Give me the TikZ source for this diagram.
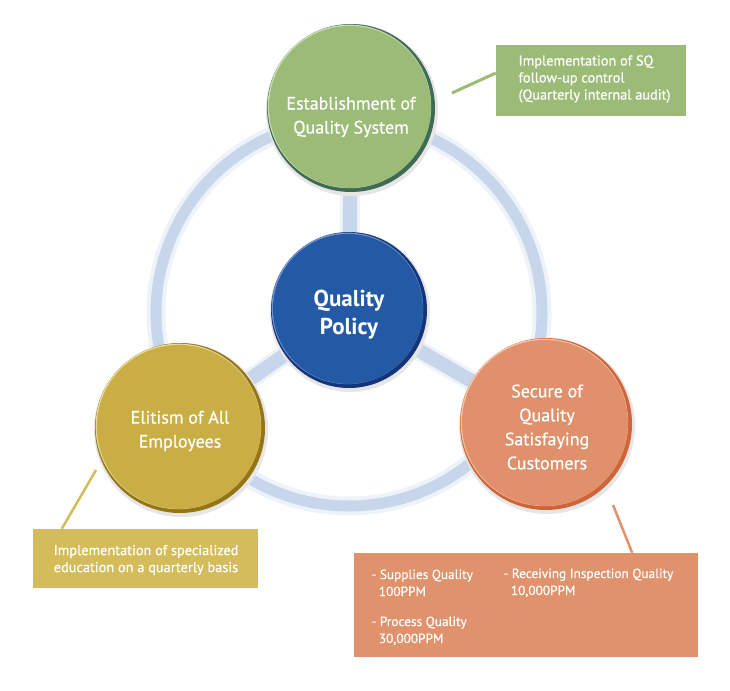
\documentclass[tikz,border=0pt]{standalone}
\usepackage{fontspec}
\setmainfont{PT Sans}
\newfontfamily\medfont[FakeBold=0.6]{PT Sans}
\usetikzlibrary{calc}
\pgfdeclarelayer{background}
\pgfsetlayers{background,main}
\definecolor{ringc}{HTML}{C7D6EA}
\definecolor{ringh}{HTML}{EEF3F9}
\definecolor{shadowc}{HTML}{E6E6E6}
\definecolor{gmain}{HTML}{9BBB77}
\definecolor{gdark}{HTML}{3F6A55}
\definecolor{glight}{HTML}{CADDB4}
\definecolor{bmain}{HTML}{245AA5}
\definecolor{bdark}{HTML}{14357A}
\definecolor{blight}{HTML}{7397CC}
\definecolor{ymain}{HTML}{C9AD45}
\definecolor{ydark}{HTML}{957415}
\definecolor{ylight}{HTML}{E8DA9E}
\definecolor{omain}{HTML}{E0916B}
\definecolor{odark}{HTML}{CF6439}
\definecolor{olight}{HTML}{F3C6AC}
\definecolor{gboxc}{HTML}{9BBB77}
\definecolor{yboxc}{HTML}{D5BC5A}
\definecolor{oboxc}{HTML}{E0926D}
\newcommand\bubdeco[5]{%
  \fill[shadowc] ([shift={(1,2)}]#1.center) circle ({#2+2});
  \fill[#3] (#1.center) circle (#2);
  \fill[#4] ([shift={(-1.6,-1.6)}]#1.center) circle ({#2-2.25});
  \fill[#5] ([shift={(-1.06,-1.06)}]#1.center) circle ({#2-3});
}
\begin{document}
\begin{tikzpicture}[x=1pt,y=-1pt,
  bub/.style={circle, inner sep=0pt, draw=none},
  ctext/.style={text=white, align=center, font=\medfont\fontsize{18}{24}\selectfont},
  btext/.style={text=white, font=\medfont\fontsize{14.3}{17}\selectfont},
  otext/.style={text=white, align=left, anchor=north west, font=\medfont\fontsize{13.3}{17}\selectfont},
  infobox/.style={rectangle, inner sep=0pt, draw=none},
]
\useasboundingbox (0,0) rectangle (730,690);

% main circles
\node[bub, minimum size=168pt] (G) at (351,108) {};
\node[bub, minimum size=156pt] (P) at (349,310) {};
\node[bub, minimum size=170pt] (E) at (180,428) {};
\node[bub, minimum size=172pt] (S) at (546,424) {};
\coordinate (ctr) at (349,313);

% info boxes
\node[infobox, fill=gboxc, minimum width=190pt, minimum height=71pt] (gb) at (591,80.5) {};
\node[infobox, fill=yboxc, minimum width=225pt, minimum height=59pt] (yb) at (145.5,558.5) {};
\node[infobox, fill=oboxc, minimum width=344pt, minimum height=104pt] (ob) at (526,605) {};

\begin{pgfonlayer}{background}
  \fill[white] (0,0) rectangle (730,690);
  \draw[ringh, line width=19pt] (ctr) circle (193);
  \draw[ringc, line width=11pt] (ctr) circle (193);
  \foreach \n in {G,E,S}{
    \draw[ringh, line width=20pt] (P.center) -- (\n.center);
    \draw[ringc, line width=14pt] (P.center) -- (\n.center);
  }
  \bubdeco{G}{84}{gdark}{glight}{gmain}
  \bubdeco{P}{78}{bdark}{blight}{bmain}
  \bubdeco{E}{85}{ydark}{ylight}{ymain}
  \bubdeco{S}{86}{odark}{olight}{omain}
\end{pgfonlayer}

% circle texts
\node[ctext] (Gt) at (351,117) {Establishment of\\Quality System};
\node[ctext, font=\bfseries\fontsize{23}{28}\selectfont] (Pt) at (349,315) {Quality\\Policy};
\node[ctext] (Et) at (180,431) {Elitism of All\\Employees};
\node[ctext] (St) at (547,427) {Secure of\\Quality\\Satisfaying\\Customers};

% box texts
\node[btext, align=left, anchor=west] (gbt) at (515,79) {Implementation of SQ\\follow-up control\\(Quarterly internal audit)};
\node[btext, align=center] (ybt) at (146,560) {Implementation of specialized\\education on a quarterly basis};
\node[otext] (o1) at (368,566) {- Supplies Quality\\\hspace*{0.55em}100PPM};
\node[otext] (o2) at (368,613) {- Process Quality\\\hspace*{0.55em}30,000PPM};
\node[otext] (o3) at (500,565) {- Receiving Inspection Quality\\\hspace*{0.55em}10,000PPM};

% connectors
\coordinate (gl) at (452,93);
\coordinate (yl) at (96,470);
\coordinate (ol) at (613,505);
\draw[gboxc, line width=3pt] (gl) -- ([yshift=7.5pt]gb.west);
\draw[yboxc, line width=2.5pt] (yl) -- ([xshift=29pt]yb.north west);
\draw[oboxc, line width=2.5pt] (ol) -- ([xshift=-66pt]ob.north east);
\end{tikzpicture}
\end{document}
